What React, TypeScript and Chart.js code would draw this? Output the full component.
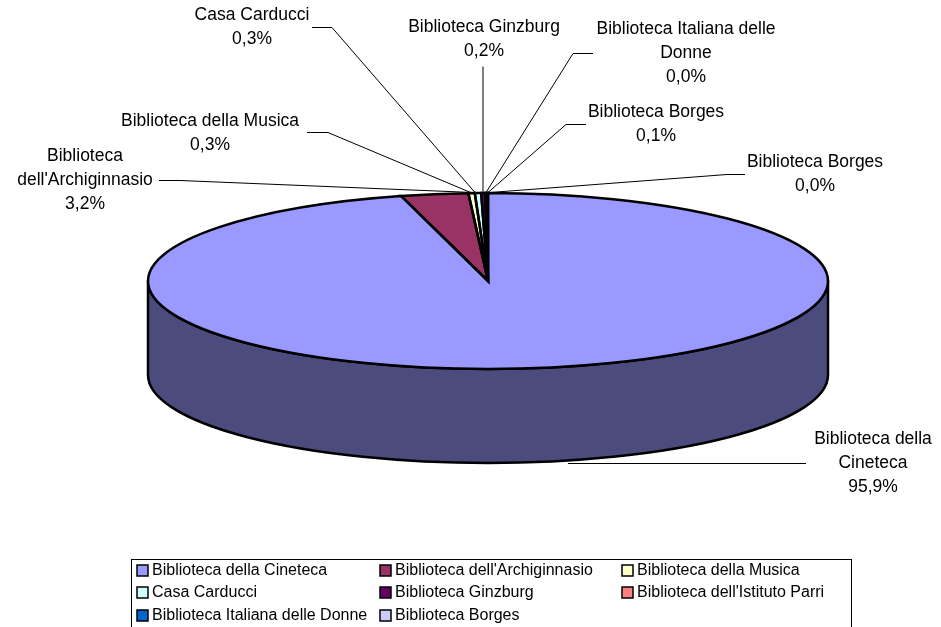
import React, { useEffect, useRef } from "react";
import { Chart, registerables } from "chart.js";

Chart.register(...registerables);

// ---- data ----
const categories = [
  "Biblioteca della Cineteca",
  "Biblioteca dell'Archiginnasio",
  "Biblioteca della Musica",
  "Casa Carducci",
  "Biblioteca Ginzburg",
  "Biblioteca dell'Istituto Parri",
  "Biblioteca Italiana delle Donne",
  "Biblioteca Borges",
];
const values = [95.9, 3.2, 0.3, 0.3, 0.2, 0.01, 0.1, 0.01];
// names as printed on the data labels of the original chart
const labelNames = [
  "Biblioteca della Cineteca",
  "Biblioteca dell'Archiginnasio",
  "Biblioteca della Musica",
  "Casa Carducci",
  "Biblioteca Ginzburg",
  "Biblioteca Italiana delle Donne",
  "Biblioteca Borges",
  "Biblioteca Borges",
];
const colors = ["#9999FF", "#993366", "#FFFFCC", "#CCFFFF", "#660066", "#FF8080", "#0066CC", "#CCCCFF"];
const sideColors = ["#4B4B7E", "#4D1A33", "#808066", "#668080", "#330033", "#804040", "#003366", "#666680"];

// ---- layout (positions only) ----
const PIE = { cx: 488, cy: 281, rx: 340, ry: 88, depth: 94 };
const LABEL_FONT = "17.5px 'Liberation Sans', Arial, sans-serif";
const LEGEND_FONT = "16px 'Liberation Sans', Arial, sans-serif";
const LINE_H = 24;
const labelLayout = [
  { x: 873, y: 439, maxW: 130, leader: [[806, 463], [568, 463]] },
  { x: 85, y: 156, maxW: 150, leader: [[159, 180], [180, 180], [473, 192]] },
  { x: 210, y: 121, maxW: 300, leader: [[307, 132], [328, 132], [473, 193]] },
  { x: 252, y: 15, maxW: 300, leader: [[312, 27], [332, 27], [475, 192]] },
  { x: 484, y: 27, maxW: 300, leader: [[483, 66], [483, 192]] },
  { x: 686, y: 29, maxW: 190, leader: [[593, 53], [573, 53], [486, 192]] },
  { x: 656, y: 112, maxW: 300, leader: [[586, 124], [566, 124], [488, 192]] },
  { x: 815, y: 162, maxW: 300, leader: [[745, 174], [727, 174], [490, 192]] },
];
const legendBox = { x: 131.5, y: 559.5, w: 720, h: 90 };
const legendCols = [136, 379, 621];
const legendRows = [570, 592, 615];

function wrap(ctx: CanvasRenderingContext2D, text: string, maxW: number): string[] {
  const words = text.split(" ");
  const lines: string[] = [];
  let cur = "";
  for (const w of words) {
    const t = cur ? cur + " " + w : w;
    if (cur && ctx.measureText(t).width > maxW) {
      lines.push(cur);
      cur = w;
    } else cur = t;
  }
  if (cur) lines.push(cur);
  return lines;
}

function pct(v: number, total: number) {
  return ((v / total) * 100).toFixed(1).replace(".", ",") + "%";
}

function applyPieTransform(ctx: CanvasRenderingContext2D, cx0: number, cy0: number, R: number) {
  ctx.translate(PIE.cx, PIE.cy);
  ctx.scale(PIE.rx / R, PIE.ry / R);
  ctx.translate(-cx0, -cy0);
}

const pie3d = {
  id: "pie3d",
  beforeDraw(chart: any) {
    const ctx = chart.ctx;
    ctx.save();
    ctx.fillStyle = "#ffffff";
    ctx.fillRect(0, 0, chart.width, chart.height);
    ctx.restore();
  },
  beforeDatasetsDraw(chart: any) {
    const ctx: CanvasRenderingContext2D = chart.ctx;
    const arcs = chart.getDatasetMeta(0).data;
    // side walls (front half only)
    const windows = [
      [-2 * Math.PI, -Math.PI],
      [0, Math.PI],
      [2 * Math.PI, 3 * Math.PI],
    ];
    arcs.forEach((a: any, i: number) => {
      const { startAngle, endAngle } = a.getProps(["startAngle", "endAngle"], true);
      for (const [w0, w1] of windows) {
        const s = Math.max(startAngle, w0);
        const e = Math.min(endAngle, w1);
        if (e <= s) continue;
        ctx.save();
        ctx.beginPath();
        ctx.ellipse(PIE.cx, PIE.cy, PIE.rx, PIE.ry, 0, s, e, false);
        ctx.ellipse(PIE.cx, PIE.cy + PIE.depth, PIE.rx, PIE.ry, 0, e, s, true);
        ctx.closePath();
        ctx.fillStyle = sideColors[i];
        ctx.fill();
        ctx.lineWidth = 2.5;
        ctx.strokeStyle = "#000";
        ctx.lineJoin = "round";
        ctx.stroke();
        ctx.restore();
      }
    });
    const a0 = arcs[0];
    ctx.save();
    applyPieTransform(ctx, a0.x, a0.y, a0.outerRadius);
  },
  afterDatasetsDraw(chart: any) {
    const ctx: CanvasRenderingContext2D = chart.ctx;
    ctx.restore();
    const arcs = chart.getDatasetMeta(0).data;
    const a0 = arcs[0];
    // outlines of each slice on the top face
    arcs.forEach((a: any) => {
      const { startAngle, endAngle } = a.getProps(["startAngle", "endAngle"], true);
      ctx.save();
      ctx.beginPath();
      ctx.save();
      applyPieTransform(ctx, a0.x, a0.y, a0.outerRadius);
      ctx.moveTo(a.x, a.y);
      ctx.arc(a.x, a.y, a.outerRadius, startAngle, endAngle);
      ctx.closePath();
      ctx.restore();
      ctx.lineWidth = 2.5;
      ctx.lineJoin = "miter";
      ctx.strokeStyle = "#000";
      ctx.stroke();
      ctx.restore();
    });
  },
  afterDraw(chart: any) {
    const ctx: CanvasRenderingContext2D = chart.ctx;
    const data: number[] = chart.data.datasets[0].data;
    const total = data.reduce((s, v) => s + v, 0);
    ctx.save();
    // data labels with leader lines
    ctx.font = LABEL_FONT;
    ctx.fillStyle = "#000";
    ctx.textAlign = "center";
    ctx.textBaseline = "middle";
    data.forEach((v, i) => {
      const L = labelLayout[i];
      const lines = wrap(ctx, labelNames[i], L.maxW);
      lines.push(pct(v, total));
      lines.forEach((t, k) => ctx.fillText(t, L.x, L.y + k * LINE_H));
      ctx.beginPath();
      L.leader.forEach(([x, y], k) => (k === 0 ? ctx.moveTo(x, y + 0.5) : ctx.lineTo(x, y + 0.5)));
      ctx.lineWidth = 1;
      ctx.strokeStyle = "#000";
      ctx.stroke();
    });
    // legend
    ctx.lineWidth = 1;
    ctx.strokeStyle = "#000";
    ctx.strokeRect(legendBox.x, legendBox.y, legendBox.w, legendBox.h);
    ctx.font = LEGEND_FONT;
    ctx.textAlign = "left";
    const labels: string[] = chart.data.labels;
    const bg: string[] = chart.data.datasets[0].backgroundColor;
    labels.forEach((name, i) => {
      const x = legendCols[i % 3];
      const y = legendRows[Math.floor(i / 3)];
      ctx.fillStyle = bg[i];
      ctx.fillRect(x + 1, y - 5, 11, 11);
      ctx.lineWidth = 1.5;
      ctx.strokeRect(x + 1, y - 5, 11, 11);
      ctx.fillStyle = "#000";
      ctx.fillText(name, x + 16, y + 1);
    });
    ctx.restore();
  },
};

export default function App() {
  const ref = useRef<HTMLCanvasElement | null>(null);
  useEffect(() => {
    if (!ref.current) return;
    const chart = new Chart(ref.current, {
      type: "pie",
      data: {
        labels: categories,
        datasets: [
          {
            data: values,
            backgroundColor: colors,
            borderWidth: 0,
            clip: false as any,
          } as any,
        ],
      },
      options: {
        responsive: false,
        maintainAspectRatio: false,
        animation: false,
        events: [],
        plugins: { legend: { display: false }, tooltip: { enabled: false } },
      },
      plugins: [pie3d as any],
    });
    return () => chart.destroy();
  }, []);
  return (
    <div style={{ position: "absolute", left: 0, top: 0, width: 941, height: 627, background: "#fff" }}>
      <canvas ref={ref} width={941} height={627} style={{ display: "block" }} />
    </div>
  );
}
